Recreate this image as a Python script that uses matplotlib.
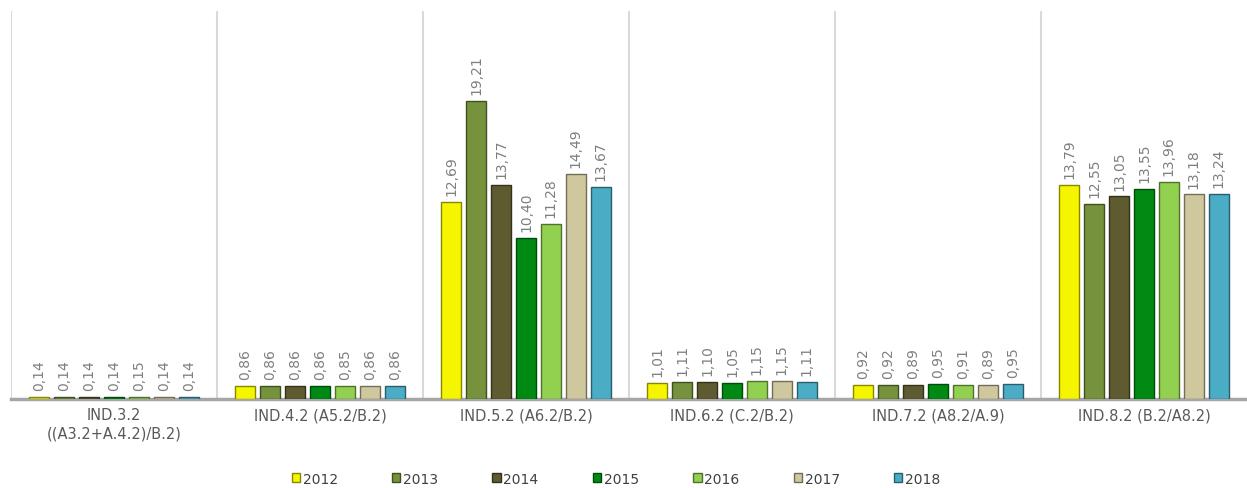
import numpy as np
import matplotlib.pyplot as plt
from matplotlib.colors import to_rgb

# Indicadores y años
categorias = ['IND.3.2\n((A3.2+A.4.2)/B.2)', 'IND.4.2 (A5.2/B.2)', 'IND.5.2 (A6.2/B.2)',
              'IND.6.2 (C.2/B.2)', 'IND.7.2 (A8.2/A.9)', 'IND.8.2 (B.2/A8.2)']
anios = ['2012', '2013', '2014', '2015', '2016', '2017', '2018']

v2012 = [0.14, 0.86, 12.69, 1.01, 0.92, 13.79]
v2013 = [0.14, 0.86, 19.21, 1.11, 0.92, 12.55]
v2014 = [0.14, 0.86, 13.77, 1.10, 0.89, 13.05]
v2015 = [0.14, 0.86, 10.40, 1.05, 0.95, 13.55]
v2016 = [0.15, 0.85, 11.28, 1.15, 0.91, 13.96]
v2017 = [0.14, 0.86, 14.49, 1.15, 0.89, 13.18]
v2018 = [0.14, 0.86, 13.67, 1.11, 0.95, 13.24]
series = [v2012, v2013, v2014, v2015, v2016, v2017, v2018]

colores = ['#F5F500', '#76923C', '#5F5B30', '#008A14', '#92D050', '#CFC79E', '#4BACC6']
gris = '#7F7F7F'


def oscurecer(c, f=0.55):
    r, g, b = to_rgb(c)
    return (r * f, g * f, b * f)


fig = plt.figure(figsize=(12.47, 4.89), dpi=100)
ax = fig.add_axes([11 / 1247, 89 / 489, 1236 / 1247, 388 / 489])

x = np.arange(len(categorias))
paso = 0.121
ancho = 0.097

for j, (vals, col) in enumerate(zip(series, colores)):
    pos = x + (j - 3) * paso
    ax.bar(pos, vals, width=ancho, color=col, edgecolor=oscurecer(col),
           linewidth=1.0, label=anios[j], zorder=3)
    for xp, v in zip(pos, vals):
        ax.annotate(f'{v:.2f}'.replace('.', ','), (xp, v), xytext=(0, 5),
                    textcoords='offset points', rotation=90, ha='center',
                    va='bottom', fontsize=10, color=gris)

ax.set_xlim(-0.5, len(categorias) - 0.5)
ax.set_ylim(0, 25)

# separadores entre grupos
for k in range(len(categorias)):
    ax.axvline(k - 0.5, color='#D9D9D9', linewidth=1.5, zorder=1)

for s in ['top', 'right', 'left']:
    ax.spines[s].set_visible(False)
ax.spines['bottom'].set_color('#A6A6A6')
ax.spines['bottom'].set_linewidth(2.5)
ax.set_yticks([])
ax.set_xticks(x)
ax.set_xticklabels(categorias, fontsize=10.5, color='#595959', linespacing=1.3)
ax.tick_params(axis='x', length=0, pad=6)

leg = fig.legend(loc='center', bbox_to_anchor=(0.494, 0.019), ncol=7,
                 frameon=False, fontsize=10, handlelength=0.6, handleheight=0.6,
                 handletextpad=0.2, columnspacing=3.9)
for t in leg.get_texts():
    t.set_color('#404040')

fig.savefig('out.png', dpi=100)
